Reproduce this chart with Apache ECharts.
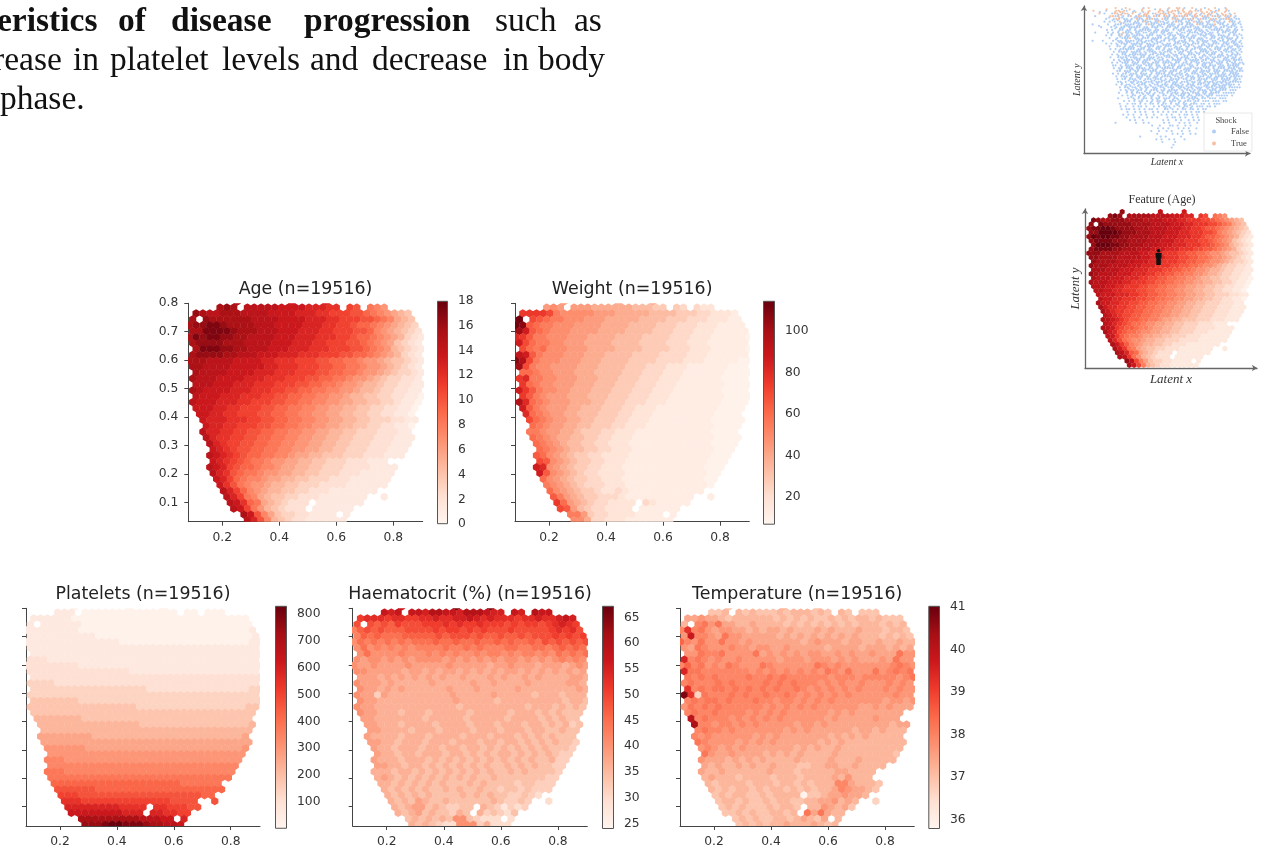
<!DOCTYPE html>
<html><head><meta charset="utf-8">
<style>html,body{margin:0;padding:0;background:#fff}#c{width:1266px;height:852px;filter:blur(0.45px)}</style>
<script src="https://cdn.jsdelivr.net/npm/echarts@6/dist/echarts.min.js"></script>
</head><body><div id="c"></div>
<script>
// Each row is one line of hexagons, top to bottom; each character a cell's colour level
// (0-9, a-k = 0..20 twentieths of the colour range), "." = no cell.
const ageRows = [
".......h.......f....e..............",
"....hih.gggggffffeeedd.cb.987......",
".ihgghhhggggffffeeeddcccbba987654..",
"h.ihhhhhhggggffffeeeddcccbba98654..",
"hiijjihhhhgggffffeeeddccbaa9876543.",
"hhjjjjihhhgggfffeeeddcccbba8765432.",
"hjijjiihhggggfffeeedddccbaa98765321",
"hiiiihhhggggfffeeeddcccbba98764321.",
".hjjjiihhgggfffeeedddcccbba98754321",
"hiiiihhgggfffeeedddcccbbaa98765321.",
"hhhggggffffeedddcccbbaa998776544321",
"hhggggfffffeedddcccbbaa99877654321.",
".hggggffffeeedddcccbbaa998776543321",
"hgggffffeeedddcccbbaa9987765433221.",
".gggfffeeedddcccbbaa998776554332211",
"hgffffeeedddccbbaa9988776554332211.",
".gfffeeedddccbbaa998877655443322110",
"gfffeeeddcccbbaa998877665544332110.",
".fffeeddcccbbaa9988776655443322110.",
".ffeeddcccbbaa9988776655443322110..",
"..feeedddccbbaa9988776655443332211.",
"..feeddcccbbaa9988776655443322110..",
"..geeddccbbaa99887766554433322211..",
"..geddccbbaa998877665544333222111..",
"...gedccbbaa998877665544333222111..",
"...fedcbbaa998877665544333222111...",
"...gfedcbaa998876655444333222111...",
"...fedcba99877665544333222111....",
"...gfecbaa988766554433322221111....",
"...gedba9987766554433322211111.....",
"....feca9887665544333222111111.....",
"....fdb9877655443332222111111......",
".....geca8765544332221111111.......",
".....gec986544332221111111..1......",
"......gfda96543222.1111111.........",
"......gfc97543222.111111...........",
"........hfb86433221111.1...........",
"........geb854322111111............"];
const weightRows = [
".......7.......6....6..............",
"....787.77766666655544.43.322......",
".ddddc988888777666665555444332221..",
"k.cba9988877766666555544433322211..",
"kjba998887777666655554443332221111.",
"ifba988877776666555544433322211111.",
"edb99888777666655554444333222111110",
"fca9988777666655554444333222111111.",
".ca9a888777666655554444333222111110",
"gfb9888777666555544443333222111111.",
"jhc98887776665555444433332221111100",
"ic98877776665555444333222111111000.",
".aa98877766655554443332221111110000",
"de99887776665554443332221111110000.",
".da98877766655544433322211111110000",
"fdb9887766655544433322211111110000.",
".db98777666555444333222111111110000",
"hea9877766655444333222111111110000.",
".fb9877766555444332221111111110000.",
".ea987766555444332221111111110000..",
"..ca987766554443322211111111100000.",
"..a987766554443322211111111110000..",
"..9987766544433222111111111110000..",
"..a987665544332221111111111110000..",
"...a98765544332221111111111110000..",
"...a9876554433222111111111111000...",
"...ba876544332222111111111111000...",
"...cb87654433222111111111111000....",
"...fe87654433222111111111111000....",
"...fb8765433222211111111111100.....",
"....a8765443322211111111111100.....",
"....9876543332221111111111110......",
".....a8765443223211111111111.......",
".....b97654433321111111111..1......",
"......da7654332222.3211111.........",
"......cb754332222.111111...........",
"........99743322221111.1...........",
"........886332221111111............"];
const plateletRows = [
".......0.......0....0..............",
"....111.00000000000000.00.000......",
".11111100000000000000000000000000..",
"1.1111110000000000000000000000000..",
"1111111100000000000000000000000001.",
"1111111111000000000000000000000001.",
"11111111111111000000000000000000011",
"1111111111111111111111111111111111.",
".1111111111111111111111111111111111",
"2221111111111111111111111111111111.",
"22222222111111111111111111111111111",
"2222222222222221111111111111111111.",
".2222222222222222222222222222222222",
"3333222222222222222222222222222222.",
".3333333333333333322222222222222233",
"3333333333333333333333333333333333.",
".4444444333333333333333333333333333",
"4444444444444444333333333333333344.",
".444444444444444444444444444444444.",
".55555554444444444444444444444444..",
"..55555555555555544444444444444445.",
"..5555555555555555555555555555555..",
"..6666666655555555555555555555556..",
"..6666666666666666666666666666666..",
"...777777666666666666666666666667..",
"...77777777777777777777777777777...",
"...88877777777777777777777777777...",
"...8888888888888888888888888888....",
"...9998888888888888888888888888....",
"...999999999999999999999999999.....",
"....aaaaaaaaaaaaaaaaaaa999999.....",
"....bbbbbbaaaaaaaaaaaaaaaaaaa......",
".....cccbbbbbbbbbbbbbbbbbbaa.......",
".....dddcccccccccccccbbbb..b......",
"......eeeeeeeedddd.ddcccbb.........",
"......ffffffffeee.eeddcc...........",
"........hhhhhhhhhgggff.e...........",
"........iiijkkjjjihhggf............"];
const haematocritRows = [
".......g.......k....k..............",
"....gfg.ggfhhggfhhhgff.gf.hgg......",
".deeedeeddeefeeffgfefeeedeefeefgf..",
"c.cbcbdcccdddededdedddcdcddcdefed..",
"9bcbcbbbccccdcddcdcdcccdcccccdedec.",
"9babaaabbbbbcbcccbcbbcbbcbcccdcdcd.",
"8a9a9a9a9aaabaabaabaababaabacbcbcbc",
"8a89898989999a99a9a999aa99aa9ababa.",
".8a888898889898988989989899898a9a9a",
"8788787878888787878787887878789898.",
"87787777877777877777677877767776787",
"8877777677676776767676776767676767.",
".7776767676767667666767667676666776",
"8777676666676666676676666766666776.",
".8776767666666766676666676666666676",
"8774766666666676666676666656665666.",
".8776666666666676666656666666665665",
"8776666666666665666666666566656565.",
".877666566656666656666656665656555.",
".77666666656666656666656666565655..",
"..77666566665666656665666566565645.",
"..7766665666566665666566656655655..",
"..7666656665666656665666565656555..",
"..7766566656665666566566565656554..",
"...766566656656656656565656565554..",
"...76656656665665656566565656544...",
"...76665666565656565656565655644...",
"...7766566565656565655656565544....",
"...6665665656565656565565655554....",
"...676565656565656556555555544.....",
"....66565656565556565555455444.....",
"....6565656556565565545545444......",
".....65656565555656565544543.......",
".....656576556555555654454..3......",
"......656775654455.6542434.........",
"......65675655465.645435...........",
"........56565658854333.3...........",
"........656543388846333............"];
const temperatureRows = [
".......5.......6....5..............",
"....556.65655565666565.65.555......",
".77877656666665656565565656656555..",
"6.9a8a776676666565656565656665656..",
"9e9a878877676776766676766676665665.",
"8g9987a887777767676767676766656565.",
"b98a88a8878777777767877767766766766",
"87a9888988788778777776777767776767.",
".88a99a8888a78787878877878778777a88",
"f9a9898898888878887888787877787a88.",
"9b9a898a9888a9888888a98988888889a98",
"faa999999989898989898a98a888a89a9a.",
".a9a9a9999a99a9a999999899989999989a",
"9a999a9a9999a9a9a99989898898889898.",
".e9a9aa9a9a9a9a99a98989898988898988",
"ke4a999a9a99a99a989898989888888988.",
".9a9aa9a999a99899898989888888878878",
"8a9a9a9999998989898988888877878777.",
".9a99a999989898988888878787777777.",
".h9a9998989898988888878777778777..",
"..i9989989898888878878777777777677.",
"..9a99898888888787877777767767666..",
"..9898888887878777777767676766666..",
"..a988887878787777776767666666666..",
"...898787877777776767667666666666..",
"...a8778777767676766667666666665...",
"...87776767676666766667666766666...",
"...767667676676665566776676666....",
"...76676666667666566666776666....",
"...6766656666566656666768666.....",
"....65666656665665656669976665.....",
"....6565665656656565667987765......",
".....56566556566660556778776.......",
".....566565565665566778676..4......",
"......565655565665.6687675.........",
"......55656556656.a7a766...........",
"........56565566567657.6...........",
"........565656676667656............"];
// Scatter panel: one character per small cell, x = Shock false, o = Shock true, . = nothing
const shockRows = [
"..........o...o......x.o.......o..oo.x..o....x...o...x........",
".o....x...oo.ox..x..o..o...oo.x.ooo.o..o.oxo...o.xo..ox.......",
"...o.x..xoo.xoo.o..x.oo.xo.ooxo.o.xo.oox.o.xo.oo.x.o..x.o.....",
"..x.....ooxo.x.xo.xooxox.oxo.xox.ooxoxo.xoo.oxo.oxox.oxo.x....",
"......x..xoo.xx.x.oxx.oxoxx.oxx.oxo.xxoxo.xoxx.oxo.xxoox.xx...",
".....x.x.x.o.xxx.xx.xoxx.xoxx.x.xoxx.xx.oxxo.xx.oxx.x.oxx.x...",
".x.....x..xxx.xxxx.xx.xoxx.xxx.xxx.xx.xxx.oxx.xxxo.xx.x.xx.x..",
"....x...x.x.xx.xxxxx.xx.xxx.x.xx.xx.xxxx.xx.xxxx.x.xx.xx.x.x..",
"......x.x..xx.xx.x.xxxxx.xx.xxx.x.xxx.xx.xxx.x.xxxxx.xx.xx.x..",
"..x....x.x.x.oxxx.xx.xx.xxx.xx.xx.x.xx.xxxx.xx.xx.x.xx.xxx....",
"......x.x..xo.xx.xxxx.xxx.xx.x.xxx.xx.x.xx.xxx.xx.xxx.x.xx.x..",
".......x..x.xxxo.xx.xxx.xxxx.xx.xx.xx.xxx.xx.x.xx.xx.xxx.x.x..",
".x...x...x.xx.xxxx.xx.xxx.x.xx.x.x.xxx.xx.x.xxx.xx.xx.x.xx.x..",
"......x.x.x.xxx.xxxxx.xx.xx.x.xx.xxx.xx.xxx.x.x.xxx.xxx.xx.x..",
".......x..xx.x.xx.xx.xxxx.xx.xxx.x.x.xx.x.xx.xxx.x.xx.xx.xxx..",
"........x.x.xxxxxx.xxx.xx.xx.x.xx.xxx.x.xx.xxx.x.xxx.xx.xx.x..",
".........x.xxxx.xxxx.x.xxx.x.xxx.x.xx.xx.x.xxxx.xx.x.xxx.x.x..",
"........x.x.xx.xxxxxxx.xx.xxx.x.xx.xx.xxx.x.x.xxx.xx.x.xxxx...",
"........x..xxxx.xxx.xx.xxx.xx.xxx.x.xxx.xx.xx.x.xxxx.xx.xx.x..",
".........x.x.xxxx.xx.xxx.x.xx.x.xxxx.x.xxxx.xx.xx.x.xxx.xxxx..",
"........x.x.xxx.xxx.xxx.xxx.xxxx.xx.xx.x.xx.xxxx.xxx.x.xx.xx..",
".........xx.x.xxxx.xx.xxx.xx.x.xxx.xxx.xx.x.xx.xxx.xx.xxxxx...",
".........x.xx.xxx.xxxx.xx.x.xxxxx.xx.xxx.xxx.xx.x.xxx.xxx.xx..",
"..........xx.xxx.xx.xx.xxx.xxx.xxx.x.xx.xx.xxxx.xxx.xxxx.xxx..",
".........x.x.xx.xxx.xxx.x.xxxx.xx.xxx.x.xxx.xx.xxxx.xx.xxxx...",
"..........x.xxx.x.xxx.xx.xx.xxxx.xx.x.xxx.xxx.xx.xxxxx.xxxxx..",
"..........x.xx.xxx.x.xxx.xxx.x.xxxx.xx.xx.xxxx.xxx.xxxx.xxx...",
"...........xx.x.xx.xx.xxx.xxx.xx.xx.xxx.xx.x.xxxx.xxxx.xxxxx..",
"..........x.x.xx.x.xxx.x.xx.xxx.xxx.x.xxx.xx.xx.xxx.xxxxx.x...",
"...........x.xx.xx.x.xx.xx.xx.xxx.xxx.xx.xxx.xxx.xxxx.xxxxx...",
"............x.x.xx.xx.x.xxx.xx.xxxx.x.xx.x.xxx.xxx.xxx.xxx....",
"...........x..x.x.xxx.xx.x.xx.x.xxx.xxx.xxx.xx.xxxx.xxxxx.....",
"............x.x.xx.x.x.xx.x.xx.xx.xxx.xx.xxx.xxx.xxxxx.x......",
"...........x...x.x.x.xx.x.xx.xxx.xx.xx.xxxx.xx.xxx.xxx........",
".............x.x.x.xx.x.x.xx.x.xxx.x.xxx.xx.xxx.xxx.xx........",
"...........x..x.xx.x.x.xx.x.xx.x.xx.xx.xxx.xx.x.xxx...........",
"............x.x..x.xx.x..x.x.xxx.x.x.xx.x.xxx.xx.x............",
"............x.xx.x.x.x.xx.x..xx.x.x.xx.xx.x.xx................",
"..............x..x.x.x..x.x.x.x.xx.x.x.x.xx.x.................",
".............x.x.x..x.x..x..x.x.x..x.xx.x.x...................",
"..............x..x.x..x.x.x...x.xx.x.x..x.x...................",
"...............x.x..x.......x.x..x.x..x.x.x...................",
"..........x.......x..x.x.....x.x...x.x.x..x...................",
"........................x..x...xx.x..x.x......................",
"..........................x.x.x...x.x.x..x....................",
"........................x..x..x.x...x..x......................",
"..........................x.....x.x.x..x.x....................",
"...................x.......x.x.....x..........................",
"..........................x.x..x.x...x........................",
"............................x....x............................",
"................................x.............................",
"................................x............................."];
// Second, staggered layer of the same panel (points between the cells above).
const shockRowsB = [
"......o.....x..o....o....x.o..x...o.o....x.o..o...x..o........",
"...x.....o.oo...xo..x.o...o.x.oo..x.o.oo...o.o.xo...o.........",
"..........xo..x...x.oo...xx.o.x.o...oxx.o.x..ox..x.oo.x.......",
".......x...xx....xxx..xx.....xx.xx..x...xx..xxx...x..xx.x.....",
"........x.x..xxx..x.xx...xx..x...xxx..xx..x...xxx.x...xx......",
"...........xx...xxx..x.xxx..xx.x...x.xx..xxx.x...xxx...x.x....",
"...x.....x...xxx..xx....x.xx..xxx.x..x.xx...xx.xx...xx.xx.....",
".........x.xx..x.x..xxx..x...x..xx.xx...xxx...x.xxx..x..x.....",
"..........x..xx..xxx..x.xx.xxx....x..xx.x.xx.x...x.xxx.xx.....",
"........x..xx.x.x.xx...xx...x.xx..xx..x...xx.xxx..x...x.x.x...",
"...........x.xx.xx..x.x...xx..x.x..xxx.xx...x..xx..xxx...x....",
".........x...x...xxx...xxx..x.xxx...x.x..xxx..x..x.x.xx.x.....",
"...........xx.xx..x.xx..x.xx.....xx.xx..x.x.xx..xx..xx.xx.x...",
"..........x..x..xx.x..xxx...xxx.x...x.xx...xx.xx...x.x..xx....",
"............x.xxx..xx.x..xx.x...xxx..x..xxx..x..xxx..xx..x....",
"...........x..x...xx..xxx...x.xx..x.xx.x...xxx.x..x.xx.xx.x...",
"............xx..xx.x.x..xx.xx..x..xx..xx.xx..x.xx..x...x.x....",
"..........x..xx.x..xx.x..x..xxx.xx..xx..x..xx.x..xxx.xx.x.....",
"............x.x..xxx..xxx.x.x...x.xx.xx..x.x.xx.x...xx.xx.x...",
"...........x.xx.x.x.xx...xx.xxx..xx..x.xxx.x...xx.xx.xx.x.....",
".............x..xx..x.xx.x..x..xx..x.xx..x.xx.x..xx..x.xxx.x..",
"............x.xx..xx...x..xx.xx.x.xx...xx...xxx.x.xxx.x.xx....",
"...........x...xx.x.xxx.xx..x...xx..xxx..x.x..x.xx..xx.xx.x...",
".............xx..x.x...x.xx.x.xx..x.x..xx.xx.x..xx.x..xxx.....",
"............x..xx.x.xx.x..x..xx.xx.x.xx...x.xx.x..xxx.x.xx....",
".............x.x..xx..x.xx.x...x..xx.x.xx.x..xx.xx.x.xx.x.....",
"..............x.xx..x..xx..xx.xx.x...xx..xx.x..xx..xxx.xx.....",
"............x...x.x.xx..x.x..x..xx.x..x.x.xxx.x.xx.x.xx.......",
".............x.x..x..x.x..xx.x.x.xxx.x.xx...xx.xx.xxx.x.......",
"..............x..x.x.x..xx..x..x..x.xx.x.xx..x.xx.xxx.........",
"..............x.x.x..x.x..x.x.xx.x..x..xx.x.xx.x.xx...........",
"................x...x.x.x...x..x.x.xx.x..xx.x.xx..............",
"...............x..x.x..x..x...x.x..x.x.xx..x.x................",
".................x..x...x.x..x..x.x...x.x.x...................",
"...................x...x..x.x..x..x.x...x.....................",
"...........................x.....x..x.x.......................",
".............................x.x....x..x......................"];
const xTicks = [0.2, 0.4, 0.6, 0.8];
const yTicks = [0.1, 0.2, 0.3, 0.4, 0.5, 0.6, 0.7, 0.8];
const ageBarTicks = [0, 2, 4, 6, 8, 10, 12, 14, 16, 18];
const weightBarTicks = [20, 40, 60, 80, 100];
const plateletBarTicks = [100, 200, 300, 400, 500, 600, 700, 800];
const haematocritBarTicks = [25, 30, 35, 40, 45, 50, 55, 60, 65];
const temperatureBarTicks = [36, 37, 38, 39, 40, 41];
const personPoint = [[0.435, 0.579]];
const bodyWords = [
  ["eristics", -3, 0, true], ["of", 118, 0, true], ["disease", 171, 0, true], ["progression", 304, 0, true],
  ["such", 495, 0], ["as", 574, 0],
  ["rease", -7, 1], ["in", 73, 1], ["platelet", 110, 1], ["levels", 222, 1], ["and", 310, 1], ["decrease", 372, 1], ["in", 503, 1], ["body", 538, 1],
  ["phase.", 0, 2]];

const reds = ['#fff5f0','#fee0d2','#fcbba1','#fc9272','#fb6a4a','#ef3b2c','#cb181d','#a50f15','#67000d'];
const DX = 0.024, DY = 0.0208;
function hexPoints(rows, lo, hi, lift) {
  const out = [];
  rows.forEach((row, r) => {
    [...row].forEach((ch, i) => {
      if (ch === '.') return;
      const lv = Math.max(0, parseInt(ch, 36) + (lift || 0));
      out.push([0.084 + (i + (r % 2 ? 0.5 : 0)) * DX, 0.806 - r * DY, lo + (lv + 0.4) / 20.4 * (hi - lo)]);
    });
  });
  return out;
}
function shockPoints(rows, mark, dx, dy) {
  const out = [];
  rows.forEach((row, r) => [...row].forEach((ch, c) => {
    if (ch === mark) out.push([0.08 + (c + dx + (r % 3) * 0.33) * 0.0135, 0.8 - (r + dy) * 0.015]);
  }));
  return out;
}
function hexRender(hw) {
  const hh = hw * 1.1547;
  return function (params, api) {
    const c = api.coord([api.value(0), api.value(1)]);
    return {type: 'polygon', silent: true,
      shape: {points: [[c[0], c[1] - hh], [c[0] + hw, c[1] - hh / 2], [c[0] + hw, c[1] + hh / 2],
                       [c[0], c[1] + hh], [c[0] - hw, c[1] + hh / 2], [c[0] - hw, c[1] - hh / 2]]},
      style: {fill: api.visual('color')}};
  };
}
const AXC = '#444';
const font = 'DejaVu Sans';
const grid = [], xAxis = [], yAxis = [], series = [], title = [], visualMap = [];

function addPanel(p) {
  const g = grid.length;
  grid.push({left: p.l, top: p.t, width: p.r - p.l, height: p.b - p.t});
  xAxis.push({gridIndex: g, type: 'value', min: 0.0807, max: 0.903, splitLine: {show: false},
    axisLine: {onZero: false, lineStyle: {color: AXC}},
    axisTick: {length: 4, lineStyle: {color: AXC}, customValues: xTicks},
    axisLabel: {customValues: xTicks, fontFamily: font, fontSize: 12.3, color: '#333', margin: 10, formatter: v => v.toFixed(1)}});
  yAxis.push({gridIndex: g, type: 'value', min: 0.032, max: 0.8, splitLine: {show: false},
    axisLine: {onZero: false, lineStyle: {color: AXC}},
    axisTick: {length: 4, lineStyle: {color: AXC}, customValues: yTicks},
    axisLabel: {show: !!p.yLabels, customValues: yTicks, fontFamily: font, fontSize: 12.3, color: '#333', margin: 10, formatter: v => v.toFixed(1)}});
  const si = series.length;
  series.push({type: 'custom', xAxisIndex: g, yAxisIndex: g, clip: true, renderItem: hexRender(3.6),
    data: hexPoints(p.rows, p.lo, p.hi, p.lift), silent: true, encode: {x: 0, y: 1}});
  visualMap.push({show: false, seriesIndex: si, dimension: 2, min: p.lo, max: p.hi, inRange: {color: reds}});
  title.push({text: p.name, left: (p.l + p.r) / 2, top: p.t - 22.5, textAlign: 'center', padding: 0,
    textStyle: {fontFamily: font, fontWeight: 'normal', fontSize: 17.4, color: '#222'}});
  // colour bar
  const g2 = grid.length;
  grid.push({left: p.cl, top: p.t - 2.5, width: p.cr - p.cl, height: p.b - p.t + 5});
  xAxis.push({gridIndex: g2, type: 'category', data: [''], show: false});
  yAxis.push({gridIndex: g2, type: 'value', position: 'right', min: p.lo, max: p.hi, splitLine: {show: false},
    axisLine: {show: false},
    axisTick: {length: 4, lineStyle: {color: AXC}, customValues: p.ticks},
    axisLabel: {customValues: p.ticks, fontFamily: font, fontSize: 12.3, color: '#333', margin: 10}});
  series.push({type: 'bar', xAxisIndex: g2, yAxisIndex: g2, data: [p.hi], barWidth: '100%', silent: true,
    itemStyle: {borderColor: '#555', borderWidth: 1,
      color: {type: 'linear', x: 0, y: 1, x2: 0, y2: 0, colorStops: reds.map((c, i) => ({offset: i / 8, color: c}))}}});
}
addPanel({name: 'Age (n=19516)', rows: ageRows, lo: 0, hi: 18, l: 188.3, r: 422.7, t: 303.3, b: 521.7, cl: 437, cr: 448, ticks: ageBarTicks, yLabels: true});
addPanel({name: 'Weight (n=19516)', rows: weightRows, lo: 7, hi: 114.5, l: 515, r: 749.3, t: 303.3, b: 521.7, cl: 763, cr: 775, ticks: weightBarTicks, lift: -0.4});
addPanel({name: 'Platelets (n=19516)', rows: plateletRows, lo: 1, hi: 831, l: 26, r: 260, t: 608.3, b: 826, cl: 275, cr: 287, ticks: plateletBarTicks});
addPanel({name: 'Haematocrit (%) (n=19516)', rows: haematocritRows, lo: 24, hi: 67.25, l: 352.7, r: 587.3, t: 608.3, b: 826, cl: 602, cr: 614, ticks: haematocritBarTicks, lift: -0.7});
addPanel({name: 'Temperature (n=19516)', rows: temperatureRows, lo: 35.8, hi: 41.02, l: 680, r: 914.3, t: 608.3, b: 826, cl: 928.3, cr: 940, ticks: temperatureBarTicks, lift: -1});

// small schematic panels with arrow axes
const arrowAxis = {splitLine: {show: false}, axisTick: {show: false}, axisLabel: {show: false},
  axisLine: {onZero: false, symbol: ['none', 'arrow'], symbolSize: [5, 5], lineStyle: {color: '#666', width: 1.3}}};
const serif = 'Liberation Serif';
const axisName = (t, gap, size) => ({name: t, nameLocation: 'middle', nameGap: gap,
  nameTextStyle: {fontFamily: serif, fontStyle: 'italic', fontSize: size, color: '#333'}});
// feature hexes
let g = grid.length;
grid.push({left: 1085, top: 209, width: 172, height: 159});
xAxis.push({gridIndex: g, type: 'value', min: 0.065, max: 0.93, ...arrowAxis, ...axisName('Latent x', 5, 13)});
yAxis.push({gridIndex: g, type: 'value', min: 0.022, max: 0.82, ...arrowAxis, ...axisName('Latent y', 3, 13)});
visualMap.push({show: false, seriesIndex: series.length, dimension: 2, min: 0, max: 17, inRange: {color: reds}});
series.push({type: 'custom', xAxisIndex: g, yAxisIndex: g, clip: true, renderItem: hexRender(2.5), silent: true,
  data: hexPoints(ageRows, 0, 18), encode: {x: 0, y: 1}});
series.push({type: 'scatter', xAxisIndex: g, yAxisIndex: g, silent: true, z: 5, symbolSize: [6, 16], itemStyle: {color: '#111', opacity: 1},
  symbol: 'path://M5 0a2.6 2.6 0 1 0 .01 0zM1 6h8v8H8v10H2V14H1z', data: personPoint});
title.push({text: 'Feature (Age)', left: 1162, top: 194, textAlign: 'center', padding: 0,
  textStyle: {fontFamily: serif, fontWeight: 'normal', fontSize: 12, color: '#333'}});
// shock scatter
g = grid.length;
grid.push({left: 1084, top: 6, width: 166, height: 147.5});
xAxis.push({gridIndex: g, type: 'value', min: 0.048, max: 0.926, ...arrowAxis, ...axisName('Latent x', 4, 10)});
yAxis.push({gridIndex: g, type: 'value', min: 0.002, max: 0.811, ...arrowAxis, ...axisName('Latent y', 2, 10)});
series.push({name: 'False', type: 'scatter', xAxisIndex: g, yAxisIndex: g, symbolSize: 2.2, silent: true, progressive: 0,
  itemStyle: {color: '#a3c6f2', opacity: 0.85}, data: shockPoints(shockRows, 'x', 0, 0).concat(shockPoints(shockRowsB, 'x', 0.5, 0.5))});
series.push({name: 'True', type: 'scatter', xAxisIndex: g, yAxisIndex: g, symbolSize: 2.2, silent: true, progressive: 0,
  itemStyle: {color: '#f3b594', opacity: 0.85}, data: shockPoints(shockRows, 'o', 0, 0).concat(shockPoints(shockRowsB, 'o', 0.5, 0.5))});
title.push({text: 'Shock', left: 1226, top: 116, textAlign: 'center', z: 20, padding: 0,
  textStyle: {fontFamily: serif, fontWeight: 'normal', fontSize: 8.5, color: '#444'}});

const chart = echarts.init(document.getElementById('c'), null, {renderer: 'canvas'});
chart.setOption({
  animation: false, backgroundColor: '#fff', grid, xAxis, yAxis, series, title, visualMap,
  legend: {data: ['False', 'True'], orient: 'vertical', left: 1204, top: 113, padding: [14, 3, 3, 8], itemGap: 3,
    itemWidth: 4, itemHeight: 4, icon: 'circle', z: 10, backgroundColor: 'rgba(255,255,255,0.9)', borderColor: '#e8e8e8', borderWidth: 1,
    textStyle: {fontFamily: serif, fontSize: 8.5, color: '#444', padding: [0, 0, 0, 10]}},
  graphic: bodyWords.map(w => ({type: 'text', left: w[1], top: 5 + 39 * w[2], z: 30,
    style: {text: w[0], font: (w[3] ? 'bold ' : '') + '33.5px "Liberation Serif"', fill: '#111'}}))
});
</script></body></html>
